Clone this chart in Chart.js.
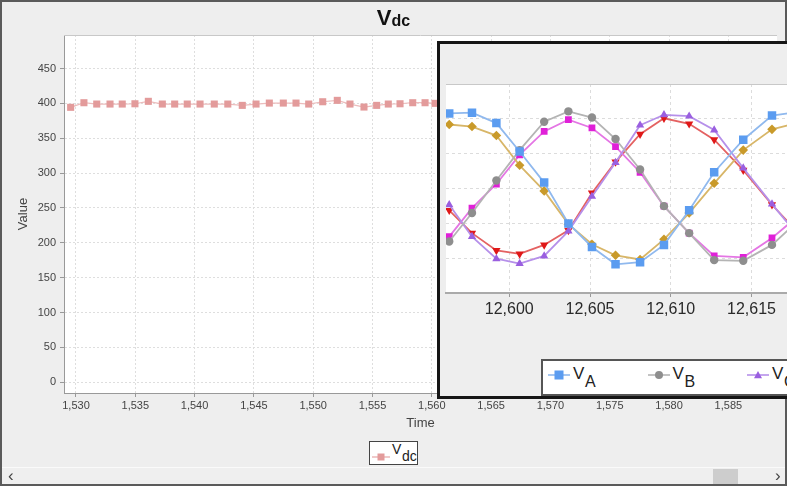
<!DOCTYPE html>
<html>
<head>
<meta charset="utf-8">
<script src="https://cdn.jsdelivr.net/npm/chart.js@4.4.0/dist/chart.umd.min.js"></script>
<style>
  html, body { margin: 0; padding: 0; overflow: hidden; background: #eeeeee; }
  body { position: relative; width: 787px; height: 486px; font-family: "Liberation Sans", Arial, sans-serif; }
  #frame { position: absolute; left: 0; top: 0; width: 787px; height: 486px; box-sizing: border-box; border: 2px solid #5a5a5a; }
  #mainWrap { position: absolute; left: 0; top: 0; width: 787px; height: 467px; }
  #title { position: absolute; left: 0; top: 7px; width: 787px; text-align: center; font-weight: bold; font-size: 22px; line-height: 22px; color: #111; }
  #title .sub { font-size: 16px; position: relative; top: 1px; }
  #legend { position: absolute; left: 369px; top: 441px; width: 49px; height: 24px; box-sizing: border-box; border: 1px solid #444; background: #fff; }
  .lg { position: absolute; white-space: nowrap; color: #222; }
  #scroll { position: absolute; left: 2px; top: 467px; width: 783px; height: 17px; background: #efefef; border-top: 1px solid #fafafa; box-sizing: border-box; }
  #scroll .arr { position: absolute; top: -1px; font-size: 17px; line-height: 17px; color: #444; }
  #thumb { position: absolute; left: 711px; top: 1px; width: 25px; height: 15px; background: #cdcdcd; }
  #inset { position: absolute; left: 437px; top: 41px; width: 440px; height: 358px; box-sizing: border-box; border: 3px solid #151515; background: #eeeeee; overflow: hidden; }
  #insetWrap { position: absolute; left: 0; top: 0; width: 420px; height: 352px; }
  #insetLegend { position: absolute; left: 101px; top: 315px; width: 400px; height: 37px; box-sizing: border-box; border: 2px solid #555; background: #fff; }
</style>
</head>
<body>
<div id="frame"></div>
<div id="mainWrap"><canvas id="mainChart" width="787" height="467"></canvas></div>
<div id="title"></div>
<div id="legend"></div>
<div id="scroll"><span class="arr" style="left:6px">&lsaquo;</span><div id="thumb"></div><span class="arr" style="left:773px">&rsaquo;</span></div>
<div id="inset">
  <div id="insetWrap"><canvas id="insetChart" width="420" height="352"></canvas></div>
  <div id="insetLegend"></div>
</div>
<script>
// Main chart: DC link voltage
const vdcLabel = 'Vdc';
const vdcTime = [1529.55, 1530.67, 1531.75, 1532.87, 1533.90, 1534.97, 1536.10, 1537.28, 1538.32, 1539.38,
  1540.46, 1541.66, 1542.80, 1544.02, 1545.18, 1546.30, 1547.48, 1548.55, 1549.62, 1550.80,
  1552.03, 1553.10, 1554.28, 1555.35, 1556.33, 1557.32, 1558.39, 1559.43, 1560.27];
const vdcValue = [394.3, 400.9, 399.0, 399.0, 399.0, 399.4, 402.9, 399.0, 399.0, 399.0,
  399.0, 399.0, 399.0, 397.1, 399.0, 400.4, 400.4, 400.4, 399.0, 402.3,
  404.3, 399.0, 394.7, 397.1, 399.0, 399.4, 400.9, 400.9, 400.0];

// Inset chart: phase voltages
const phaseTime = [12596.28, 12597.69, 12599.20, 12600.64, 12602.16, 12603.66, 12605.12, 12606.58,
  12608.10, 12609.58, 12611.14, 12612.69, 12614.49, 12616.27, 12617.80];
const vA = [112, 113, 98, 57, 12, -47, -81, -106, -103, -78, -28, 27, 74, 109, 114];
const vB = [-73, -32, 15, 59, 100, 115, 106, 75, 31, -22, -61, -100, -101, -78, -45];
const vC = [-20, -66, -98, -105, -94, -58, -8, 41, 95, 110, 108, 88, 33, -19, -62];
const vA2 = [96, 93, 80, 37, 0, -48, -77, -93, -99, -70, -32, 11, 59, 89, 98];
const vB2 = [-66, -25, 10, 52, 86, 103, 91, 64, 27, -22, -61, -94, -96, -68, -38];
const vC2 = [-28, -61, -86, -91, -78, -57, -3, 42, 82, 105, 97, 74, 30, -20, -58];
const phaseLabels = ['VA', 'VB', 'VC', "VA'", "VB'", "VC'"];
const phaseValues = [vA, vB, vC, vA2, vB2, vC2];
const phaseColors = ['#5b9cf0', '#8e8e8e', '#9a5fe0', '#c99a2a', '#e020d8', '#e01818'];
const phaseLines = ['#90b9ee', '#b4b4b4', '#b690ea', '#d8b668', '#e476e4', '#e46262'];
const phaseShapes = ['rect', 'circle', 'triangle', 'rectRot', 'rect', 'triangle'];

Chart.defaults.font.family = '"Liberation Sans", Arial, sans-serif';
Chart.defaults.color = '#444';

// white plot area with a light top edge
const plotBackground = {
  id: 'plotBackground',
  beforeDraw(chart) {
    const { ctx, chartArea: a } = chart;
    ctx.save();
    ctx.fillStyle = '#fff';
    ctx.fillRect(a.left, a.top, a.width, a.height);
    ctx.restore();
  },
  beforeDatasetsDraw(chart) {
    const { ctx, chartArea: a } = chart;
    ctx.save();
    ctx.strokeStyle = '#c8c8c8';
    ctx.lineWidth = 1;
    ctx.beginPath();
    ctx.moveTo(a.left, a.top + 0.5);
    ctx.lineTo(a.right, a.top + 0.5);
    ctx.stroke();
    ctx.restore();
  }
};

const fmt = v => Number(v).toLocaleString('en-US');

new Chart(document.getElementById('mainChart'), {
  type: 'line',
  data: {
    datasets: [{
      label: vdcLabel,
      data: vdcTime.map((t, i) => ({ x: t, y: vdcValue[i] })),
      borderColor: '#ecbcbc',
      borderWidth: 1.2,
      pointStyle: 'rect',
      pointRadius: 5,
      pointBackgroundColor: '#e39b9b',
      pointBorderWidth: 0,
      tension: 0
    }]
  },
  options: {
    responsive: false,
    animation: false,
    layout: { padding: { top: 35, right: 10, bottom: 35, left: 0 } },
    plugins: { legend: { display: false }, tooltip: { enabled: false } },
    scales: {
      x: {
        type: 'linear',
        min: 1528.99,
        max: 1589.1,
        afterFit: s => { s.height = 39; },
        ticks: { stepSize: 5, includeBounds: false, autoSkip: false, maxRotation: 0, padding: 2,
          font: { size: 11 }, color: '#444', callback: fmt },
        grid: { color: '#dedede', tickLength: 4, tickColor: '#999', tickBorderDash: [] },
        border: { color: '#999', dash: [2, 2] },
        title: { display: true, text: 'Time', font: { size: 13 }, color: '#444', padding: { top: 0, bottom: 1 } }
      },
      y: {
        min: -15.3,
        max: 498,
        afterFit: s => { s.width = 64; },
        ticks: { stepSize: 50, includeBounds: false, padding: 4, font: { size: 11 }, color: '#444' },
        grid: { color: '#dedede', tickLength: 4, tickColor: '#999', tickBorderDash: [] },
        border: { color: '#999', dash: [2, 2] },
        title: { display: true, text: 'Value', font: { size: 13 }, color: '#444', padding: { top: 16, bottom: 0 } }
      }
    }
  },
  plugins: [plotBackground]
});

new Chart(document.getElementById('insetChart'), {
  type: 'line',
  data: {
    datasets: phaseValues.map((vals, k) => ({
      label: phaseLabels[k],
      data: phaseTime.map((t, i) => ({ x: t, y: vals[i] })),
      borderColor: phaseLines[k],
      borderWidth: 1.8,
      pointStyle: phaseShapes[k],
      pointRotation: k === 5 ? 180 : 0,
      pointRadius: phaseShapes[k] === 'rect' ? (k === 0 ? 6 : 4.8) : (phaseShapes[k] === 'circle' ? 4.2 : 4.8),
      pointBackgroundColor: phaseColors[k],
      pointBorderWidth: 0,
      tension: 0
    }))
  },
  options: {
    responsive: false,
    animation: false,
    layout: { padding: { top: 40, right: 0, bottom: 63, left: 1 } },
    plugins: { legend: { display: false }, tooltip: { enabled: false } },
    scales: {
      x: {
        type: 'linear',
        min: 12596.08,
        max: 12621.33,
        afterFit: s => { s.height = 40; },
        ticks: { stepSize: 5, includeBounds: false, autoSkip: false, maxRotation: 0, padding: 3,
          font: { size: 16 }, color: '#2a2a2a', callback: fmt },
        grid: { color: '#dcdcdc', tickLength: 4, tickColor: '#999', tickBorderDash: [] },
        border: { color: '#aaa', width: 2, dash: [3, 3] }
      },
      y: {
        min: -147.5,
        max: 154.5,
        afterFit: s => { s.width = 0; },
        ticks: { stepSize: 50, display: false },
        grid: { color: '#dcdcdc', drawTicks: false },
        border: { display: false, dash: [3, 3] }
      }
    }
  },
  plugins: [plotBackground]
});

// title and legends (HTML so the subscripts render)
function withSub(name) {
  return name[0] + '<span class="sub">' + name.slice(1) + '</span>';
}
document.getElementById('title').innerHTML = withSub(vdcLabel);

function keySvg(shape, color, lineColor, w, h, r, rot) {
  const cx = w / 2, cy = h / 2;
  let m = '';
  if (shape === 'rect') m = `<rect x="${cx - r}" y="${cy - r}" width="${2 * r}" height="${2 * r}" fill="${color}"/>`;
  else if (shape === 'circle') m = `<circle cx="${cx}" cy="${cy}" r="${r}" fill="${color}"/>`;
  else if (shape === 'triangle') {
    const d = rot ? 1 : -1;
    m = `<polygon points="${cx},${cy + d * r} ${cx - r},${cy - d * r * 0.8} ${cx + r},${cy - d * r * 0.8}" fill="${color}"/>`;
  } else m = `<polygon points="${cx},${cy - r} ${cx + r},${cy} ${cx},${cy + r} ${cx - r},${cy}" fill="${color}"/>`;
  return `<svg width="${w}" height="${h}"><line x1="0" y1="${cy}" x2="${w}" y2="${cy}" stroke="${lineColor}" stroke-width="1.6"/>${m}</svg>`;
}

document.getElementById('legend').innerHTML =
  `<div class="lg" style="left:2px;top:6px;height:10px">${keySvg('rect', '#e39b9b', '#ecbcbc', 18, 10, 3.5)}</div>` +
  `<div class="lg" style="left:22px;top:0px;font-size:14px;line-height:14px">${vdcLabel[0]}</div>` +
  `<div class="lg" style="left:32px;top:7px;font-size:14px;line-height:14px">${vdcLabel.slice(1)}</div>`;

let ih = '';
for (let k = 0; k < 3; k++) {
  const x0 = 5 + k * 99.5;
  ih += `<div class="lg" style="left:${x0}px;top:7px;height:14px">${keySvg(phaseShapes[k], phaseColors[k], phaseLines[k], 22, 14, k === 0 ? 4.5 : 4)}</div>`;
  ih += `<div class="lg" style="left:${x0 + 25}px;top:4px;font-size:17px;line-height:17px">${phaseLabels[k][0]}</div>`;
  ih += `<div class="lg" style="left:${x0 + 37}px;top:13px;font-size:16px;line-height:16px">${phaseLabels[k].slice(1)}</div>`;
}
document.getElementById('insetLegend').innerHTML = ih;
</script>
</body>
</html>
